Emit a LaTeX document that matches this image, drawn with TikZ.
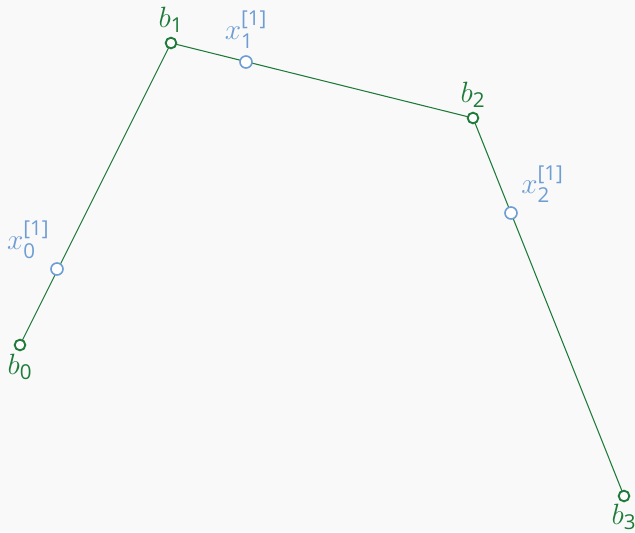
\RequirePackage{fix-cm}
\documentclass[tikz,border=0pt]{standalone}
\usepackage{amsmath}
\usepackage{fontspec}
\setmainfont{Open Sans}
\usepackage{tikz}
\usetikzlibrary{positioning}
\definecolor{ctrlgreen}{HTML}{1E7B3A}
\definecolor{ptblue}{HTML}{6E9DD3}
\definecolor{bggray}{HTML}{F9F9F9}
\tikzset{
	ctrl/.style={circle, draw=ctrlgreen, fill=white, line width=1.4pt, minimum size=8pt, inner sep=0pt},
	pt/.style={circle, draw=ptblue, fill=white, line width=1.2pt, minimum size=9pt, inner sep=0pt},
	ctrllabel/.style={text=ctrlgreen, font=\fontsize{22}{26}\selectfont, inner sep=0pt},
	ptlabel/.style={text=ptblue, font=\fontsize{22}{26}\selectfont, inner sep=0pt},
	poly/.style={draw=ctrlgreen, line width=0.8pt}
}

\begin{document}
\begin{tikzpicture}[x=0.75pt, y=-0.75pt]
			% background
			\fill[bggray] (0,0) rectangle (635,532);
			\useasboundingbox (0,0) rectangle (635,532);
			
			% --- Control points ---
			\coordinate (b0) at (20,345);
			\coordinate (b1) at (171,43);
			\coordinate (b2) at (473,118);
			\coordinate (b3) at (624,496);
			
			% --- Control polygon ---
			\draw[poly] (b0) -- (b1) -- (b2) -- (b3);
			
			% --- Points on the polygon ---
			\node[pt] (x0) at (57,269) {};
			\node[pt] (x1) at (246,62) {};
			\node[pt] (x2) at (511,213) {};
			
			\foreach \i in {0,1,2,3} \node[ctrl] (n\i) at (b\i) {};
			
			% Labels
			\node[ctrllabel, below=2pt of n0] {$b_{\text{0}}$};
			\node[ctrllabel, above=3pt of n1] {$b_{\text{1}}$};
			\node[ctrllabel, above=3pt of n2] {$b_{\text{2}}$};
			\node[ctrllabel, below=1pt of n3] {$b_{\text{3}}$};
			\node[ptlabel, above left=4pt and 2pt of x0] {$x_{\text{0}}^{\text{[1]}}$};
			\node[ptlabel, above=5pt of x1] {$x_{\text{1}}^{\text{[1]}}$};
			\node[ptlabel, above right=4pt and 4pt of x2] {$x_{\text{2}}^{\text{[1]}}$};
		\end{tikzpicture}
\end{document}
